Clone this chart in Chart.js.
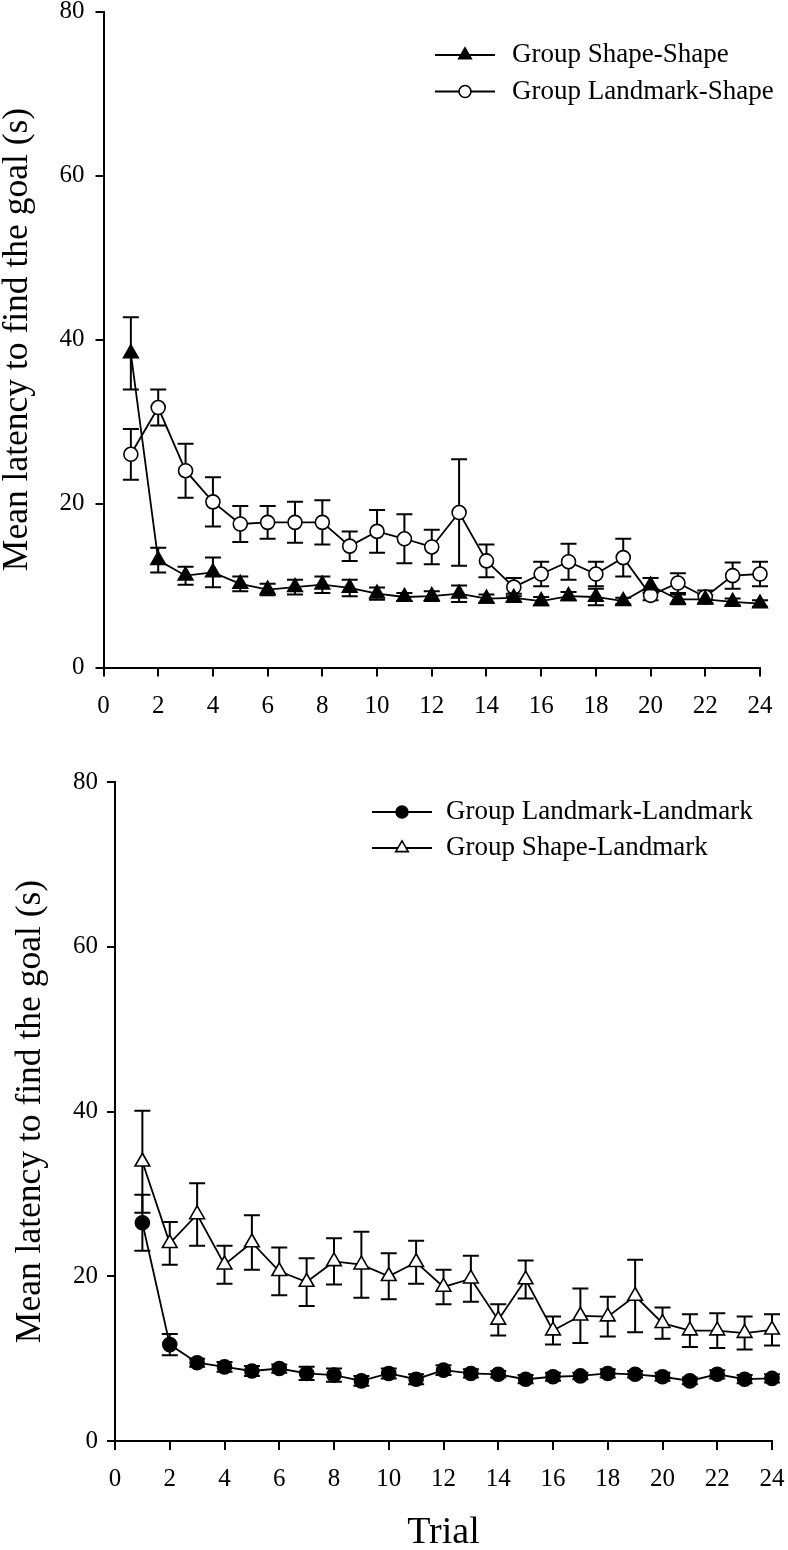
<!DOCTYPE html>
<html><head><meta charset="utf-8">
<script src="https://cdn.jsdelivr.net/npm/chart.js@4/dist/chart.umd.min.js"></script>
<style>
html,body{margin:0;padding:0;background:#fff;}
#wrap1{position:absolute;left:0;top:0;width:788px;height:760px;}
#wrap2{position:absolute;left:0;top:760px;width:788px;height:790px;}
</style></head><body>
<div id="wrap1"><canvas id="c1"></canvas></div>
<div id="wrap2"><canvas id="c2"></canvas></div>
<script>
// ---- data ----
const trials = [1,2,3,4,5,6,7,8,9,10,11,12,13,14,15,16,17,18,19,20,21,22,23,24];
const xTicks = [0,2,4,6,8,10,12,14,16,18,20,22,24];
const yTicks = [0,20,40,60,80];

const shapeShape    = [38.3,13.1,11.2,11.6,10.2,9.5,9.8,10.1,9.7,9.0,8.6,8.7,9.0,8.4,8.5,8.1,8.7,8.6,8.1,10.0,8.3,8.3,8.0,7.8];
const shapeShapeErr = [4.4,1.5,1.1,1.8,0.9,0.7,0.9,1.0,1.0,0.75,0.5,0.6,1.0,0.5,0.5,0.5,0.5,1.0,0.4,0.9,0.6,0.5,0.4,0.4];
const landmarkShape    = [26.0,31.7,24.0,20.2,17.5,17.7,17.7,17.7,14.8,16.6,15.7,14.7,18.9,13.0,9.8,11.4,12.9,11.4,13.4,8.8,10.3,8.6,11.2,11.4];
const landmarkShapeErr = [3.1,2.2,3.3,3.0,2.2,2.0,2.5,2.7,1.8,2.6,3.0,2.1,6.5,2.0,1.1,1.5,2.2,1.5,2.3,0.6,1.2,0.8,1.6,1.5];

const landmarkLandmark    = [26.5,11.7,9.5,9.0,8.5,8.8,8.2,8.0,7.3,8.2,7.5,8.6,8.2,8.1,7.5,7.8,7.9,8.2,8.1,7.8,7.3,8.1,7.5,7.6];
const landmarkLandmarkErr = [3.4,1.3,0.5,0.6,0.6,0.5,0.8,0.8,0.6,0.6,0.6,0.6,0.5,0.4,0.5,0.5,0.4,0.5,0.4,0.5,0.4,0.5,0.5,0.5];
const shapeLandmark    = [33.9,24.0,27.5,21.4,24.1,20.6,19.3,21.8,21.4,20.0,21.7,18.7,19.7,14.7,19.6,13.4,15.2,15.1,17.6,14.3,13.4,13.4,13.1,13.5];
const shapeLandmarkErr = [6.2,2.6,3.8,2.3,3.3,2.9,2.9,2.8,4.0,2.8,2.6,2.1,2.8,1.9,2.3,1.7,3.3,2.4,4.4,1.9,2.0,2.1,2.0,1.9];

const yTitle = 'Mean latency to find the goal (s)';
const xTitle = 'Trial';

// ---- helpers ----
const SERIF = '"Liberation Serif", "Times New Roman", serif';

function series(label, vals, errs, style, fill, radius) {
  return {
    label: label,
    data: trials.map((t, i) => ({x: t, y: vals[i]})),
    errors: errs,
    borderColor: '#000',
    borderWidth: 1.8,
    pointStyle: style,
    pointRadius: radius,
    pointHoverRadius: radius,
    pointBackgroundColor: fill,
    pointBorderColor: '#000',
    pointBorderWidth: 1.6,
    tension: 0,
    fill: false,
    clip: false
  };
}

const errorBars = {
  id: 'errorBars',
  beforeDatasetsDraw(chart) {
    const ctx = chart.ctx, xs = chart.scales.x, ys = chart.scales.y;
    ctx.save();
    ctx.strokeStyle = '#000';
    ctx.lineWidth = 2;
    chart.data.datasets.forEach(ds => {
      ds.data.forEach((p, j) => {
        const e = ds.errors[j];
        const px = xs.getPixelForValue(p.x);
        const hi = ys.getPixelForValue(p.y + e);
        const lo = ys.getPixelForValue(p.y - e);
        ctx.beginPath();
        ctx.moveTo(px, hi); ctx.lineTo(px, lo);
        ctx.moveTo(px - 8, hi); ctx.lineTo(px + 8, hi);
        ctx.moveTo(px - 8, lo); ctx.lineTo(px + 8, lo);
        ctx.stroke();
      });
    });
    ctx.restore();
  }
};

const legendBox = {
  id: 'legendBox',
  afterDraw(chart, args, opts) {
    const ctx = chart.ctx;
    chart.data.datasets.forEach((ds, i) => {
      const y = opts.y0 + i * opts.dy;
      ctx.save();
      ctx.strokeStyle = '#000';
      ctx.lineWidth = 1.8;
      ctx.beginPath(); ctx.moveTo(opts.x0, y); ctx.lineTo(opts.x1, y); ctx.stroke();
      ctx.fillStyle = ds.pointBackgroundColor;
      ctx.strokeStyle = '#000';
      ctx.lineWidth = 1.6;
      Chart.helpers.drawPoint(ctx, {pointStyle: ds.pointStyle, radius: ds.pointRadius * 0.85, borderWidth: 1.6, rotation: 0}, (opts.x0 + opts.x1) / 2, y);
      ctx.fillStyle = '#000';
      ctx.font = '27px ' + SERIF;
      ctx.textBaseline = 'middle';
      ctx.textAlign = 'left';
      ctx.fillText(ds.label, opts.tx, y);
      ctx.restore();
    });
  }
};

function makeChart(id, datasets, g) {
  return new Chart(document.getElementById(id), {
    type: 'line',
    data: {datasets: datasets},
    plugins: [errorBars, legendBox],
    options: {
      responsive: true,
      maintainAspectRatio: false,
      animation: false,
      events: [],
      layout: {autoPadding: false, padding: {left: 0, right: g.pr, top: g.pt, bottom: 0}},
      plugins: {
        legend: {display: false},
        tooltip: {enabled: false},
        legendBox: g.legend
      },
      scales: {
        x: {
          type: 'linear', min: 0, max: 24,
          afterBuildTicks: s => { s.ticks = xTicks.map(v => ({value: v})); },
          afterFit: s => { s.height = g.xh; s.paddingLeft = 0; s.paddingRight = 0; },
          grid: {drawOnChartArea: false, drawTicks: true, tickLength: 9, color: '#000', lineWidth: 2},
          border: {display: true, color: '#000', width: 2},
          ticks: {color: '#000', font: {family: SERIF, size: 25, lineHeight: 1}, padding: 17, maxRotation: 0, autoSkip: false},
          title: {display: g.showX, text: xTitle, color: '#000', font: {family: SERIF, size: 38, lineHeight: 0.9}, padding: {top: 0, bottom: 0}}
        },
        y: {
          type: 'linear', min: 0, max: 80,
          afterBuildTicks: s => { s.ticks = yTicks.map(v => ({value: v})); },
          afterFit: s => { s.width = g.yw; s.paddingTop = 0; s.paddingBottom = 0; },
          grid: {drawOnChartArea: false, drawTicks: true, tickLength: 8, color: '#000', lineWidth: 2},
          border: {display: true, color: '#000', width: 2},
          ticks: {color: '#000', font: {family: SERIF, size: 25, lineHeight: 1}, padding: g.ypad},
          title: {display: true, text: yTitle, color: '#000', font: {family: SERIF, size: 35.5, lineHeight: 1}, padding: {top: g.tpad, bottom: 0}}
        }
      }
    }
  });
}

makeChart('c1', [
  series('Group Shape-Shape', shapeShape, shapeShapeErr, 'triangle', '#000', 8.5),
  series('Group Landmark-Shape', landmarkShape, landmarkShapeErr, 'circle', '#fff', 7)
], {pr: 28, pt: 11.5, xh: 92.5, yw: 103.5, ypad: 11, tpad: 0, showX: false,
    legend: {x0: 435, x1: 495, tx: 512, y0: 55, dy: 36.5}});

makeChart('c2', [
  series('Group Landmark-Landmark', landmarkLandmark, landmarkLandmarkErr, 'circle', '#000', 7),
  series('Group Shape-Landmark', shapeLandmark, shapeLandmarkErr, 'triangle', '#fff', 8.5)
], {pr: 16, pt: 22, xh: 109, yw: 115, ypad: 9, tpad: 13, showX: true,
    legend: {x0: 372, x1: 432, tx: 446, y0: 52, dy: 36}});
</script>
</body></html>
